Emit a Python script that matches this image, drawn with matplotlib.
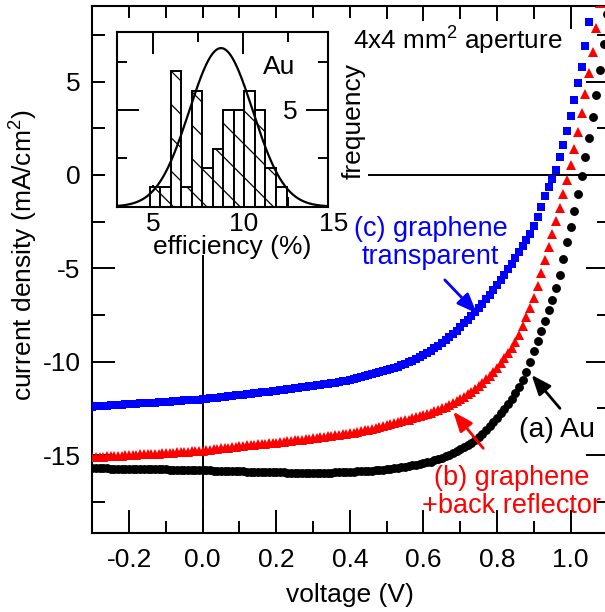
import numpy as np
import matplotlib
matplotlib.use('Agg')
import matplotlib.pyplot as plt
from matplotlib.patches import Rectangle
from matplotlib.ticker import MultipleLocator, FixedLocator, FormatStrFormatter

plt.rcParams['font.family'] = ['Liberation Sans', 'DejaVu Sans']
plt.rcParams['mathtext.fontset'] = 'custom'
plt.rcParams['mathtext.rm'] = 'Liberation Sans'
plt.rcParams['mathtext.it'] = 'Liberation Sans:italic'
plt.rcParams['mathtext.bf'] = 'Liberation Sans:bold'
plt.rcParams['axes.unicode_minus'] = False
plt.rcParams['hatch.linewidth'] = 0.9

# ---------------- data ----------------
V_au = np.round(np.arange(-0.30, 1.1001, 0.01), 2)
J_au = [-15.71, -15.71, -15.72, -15.72, -15.72, -15.73, -15.73, -15.73, -15.74, -15.74,
        -15.74, -15.75, -15.75, -15.75, -15.76, -15.76, -15.76, -15.77, -15.77, -15.77,
        -15.77, -15.78, -15.78, -15.78, -15.79, -15.79, -15.79, -15.79, -15.80, -15.80,
        -15.80, -15.81, -15.82, -15.83, -15.83, -15.84, -15.85, -15.86, -15.86, -15.87,
        -15.88, -15.88, -15.89, -15.89, -15.90, -15.90, -15.91, -15.91, -15.92, -15.92,
        -15.93, -15.93, -15.93, -15.94, -15.94, -15.94, -15.94, -15.95, -15.95, -15.95,
        -15.95, -15.95, -15.95, -15.94, -15.94, -15.94, -15.93, -15.93, -15.92, -15.91,
        -15.90, -15.89, -15.88, -15.87, -15.86, -15.85, -15.84, -15.82, -15.80, -15.78,
        -15.75, -15.73, -15.70, -15.68, -15.65, -15.62, -15.59, -15.56, -15.52, -15.49,
        -15.45, -15.40, -15.35, -15.29, -15.22, -15.15, -15.07, -14.99, -14.90, -14.80,
        -14.70, -14.58, -14.46, -14.33, -14.19, -14.03, -13.86, -13.67, -13.47, -13.25,
        -13.00, -12.76, -12.51, -12.25, -11.98, -11.70, -11.35, -10.98, -10.55, -10.00,
        -9.45, -8.90, -8.35, -7.80, -7.25, -6.70, -6.05, -5.35, -4.50, -3.60,
        -2.80, -1.95, -1.00, -0.05, 0.95, 2.00, 3.10, 4.30, 5.60, 7.00, 8.60]

V_br = np.round(np.arange(-0.30, 1.0801, 0.01), 2)
J_br = [-15.12, -15.11, -15.10, -15.08, -15.07, -15.06, -15.05, -15.04, -15.03, -15.02,
        -15.00, -14.99, -14.98, -14.97, -14.96, -14.95, -14.94, -14.93, -14.92, -14.90,
        -14.89, -14.88, -14.87, -14.86, -14.85, -14.84, -14.82, -14.81, -14.80, -14.79,
        -14.77, -14.75, -14.72, -14.70, -14.67, -14.65, -14.62, -14.60, -14.58, -14.55,
        -14.52, -14.50, -14.48, -14.47, -14.45, -14.43, -14.41, -14.39, -14.37, -14.36,
        -14.34, -14.32, -14.30, -14.27, -14.25, -14.22, -14.20, -14.17, -14.15, -14.12,
        -14.10, -14.07, -14.05, -14.02, -14.00, -13.97, -13.94, -13.92, -13.89, -13.86,
        -13.84, -13.80, -13.76, -13.72, -13.68, -13.64, -13.60, -13.55, -13.50, -13.45,
        -13.40, -13.35, -13.30, -13.25, -13.20, -13.15, -13.10, -13.04, -12.98, -12.92,
        -12.86, -12.80, -12.73, -12.66, -12.58, -12.50, -12.41, -12.32, -12.22, -12.11,
        -12.00, -11.88, -11.75, -11.61, -11.46, -11.30, -11.13, -10.95, -10.75, -10.54,
        -10.32, -10.08, -9.83, -9.56, -9.28, -8.95, -8.55, -8.10, -7.60, -7.10,
        -6.60, -5.95, -5.25, -4.55, -3.85, -3.15, -2.45, -1.75, -1.00, -0.25,
        0.55, 1.40, 2.30, 3.30, 4.35, 5.45, 6.60, 7.85, 9.20]

V_tr = np.round(np.arange(-0.30, 1.0601, 0.01), 2)
J_tr = [-12.41, -12.40, -12.38, -12.37, -12.36, -12.34, -12.33, -12.32, -12.30, -12.29,
        -12.28, -12.27, -12.25, -12.24, -12.23, -12.21, -12.20, -12.19, -12.17, -12.16,
        -12.15, -12.14, -12.12, -12.11, -12.10, -12.08, -12.07, -12.06, -12.04, -12.03,
        -12.02, -12.00, -11.97, -11.95, -11.92, -11.90, -11.87, -11.85, -11.82, -11.80,
        -11.78, -11.76, -11.73, -11.71, -11.69, -11.67, -11.64, -11.62, -11.60, -11.57,
        -11.55, -11.53, -11.50, -11.48, -11.45, -11.43, -11.40, -11.38, -11.35, -11.33,
        -11.30, -11.27, -11.24, -11.21, -11.18, -11.15, -11.12, -11.08, -11.05, -11.01,
        -10.98, -10.93, -10.88, -10.83, -10.78, -10.73, -10.68, -10.62, -10.56, -10.50,
        -10.45, -10.39, -10.33, -10.26, -10.19, -10.11, -10.03, -9.94, -9.85, -9.75,
        -9.65, -9.53, -9.41, -9.28, -9.14, -9.00, -8.85, -8.69, -8.52, -8.35,
        -8.15, -7.95, -7.75, -7.55, -7.34, -7.12, -6.90, -6.67, -6.43, -6.17,
        -5.90, -5.62, -5.34, -5.05, -4.76, -4.46, -4.15, -3.83, -3.50, -3.15,
        -2.75, -2.25, -1.70, -1.15, -0.65, -0.20, 0.25, 0.95, 1.60, 2.35,
        3.15, 4.00, 4.90, 5.80, 6.90, 8.20, 9.50]

# inset histogram (efficiency distribution, Au)
bin_edges = [4.80, 5.38, 5.97, 6.55, 7.14, 7.72, 8.31, 8.89, 9.48, 10.06, 10.65, 11.23, 11.81, 12.40]
counts = [1, 1, 7, 1, 6, 2, 3, 5, 5, 6, 5, 2, 1]
# gaussian fit parameters
fit_amp, fit_mu, fit_sigma = 8.2, 8.76, 1.76

# ---------------- figure ----------------
fig = plt.figure(figsize=(6.05, 6.12), dpi=100)
ax = fig.add_axes([0.1526, 0.1296, 0.8532, 0.8606])
ax.set_xlim(-0.30, 1.103)
ax.set_ylim(-19.16, 9.05)

ax.axhline(0, color='black', lw=1.4, zorder=1)
ax.axvline(0, color='black', lw=1.4, zorder=1)

ax.plot(V_tr, J_tr, 's', color='blue', ms=5.8, mew=0, zorder=3)
ax.plot(V_br, J_br, '^', color='red', ms=6.8, mew=0, zorder=3)
ax.plot(V_au, J_au, 'o', color='black', ms=6.4, mew=0, zorder=3)

ax.xaxis.set_major_locator(MultipleLocator(0.2))
ax.xaxis.set_minor_locator(MultipleLocator(0.1))
ax.xaxis.set_major_formatter(FormatStrFormatter('%.1f'))
ax.yaxis.set_major_locator(MultipleLocator(5))
ax.yaxis.set_minor_locator(MultipleLocator(2.5))
ax.tick_params(which='both', direction='in', top=True, right=True, width=1.4, labelsize=19)
ax.tick_params(which='major', length=16.5)
ax.tick_params(which='minor', length=9)
ax.tick_params(axis='x', pad=11)
ax.tick_params(axis='y', pad=8.5)
for s in ax.spines.values():
    s.set_linewidth(1.5)

ax.set_xlabel('voltage (V)', fontsize=19)
ax.xaxis.set_label_coords(0.5, -0.0955)
ax.set_ylabel('current density (mA/cm$^2$)', fontsize=19)
ax.yaxis.set_label_coords(-0.101, 0.527)

# white area behind the inset
ax.add_patch(Rectangle((105 / 605, 1 - 255 / 612), 263 / 605, 237 / 612,
                       transform=fig.transFigure, fc='white', ec='none', zorder=5))

# annotations
ax.text(0.620, -3.67, '(c) graphene\ntransparent', color='blue', ha='center', va='center',
        fontsize=19.5, linespacing=1.1, zorder=6)
ax.text(0.964, -13.66, '(a) Au', color='black', ha='center', va='center', fontsize=20.5, zorder=6)
ax.text(0.8405, -16.98, '(b) graphene\n+back reflector', color='red', ha='center', va='center',
        fontsize=19.5, linespacing=1.1, zorder=6)
ax.text(0.694, 7.18, '4x4 mm$^2$ aperture', color='black', ha='center', va='center', fontsize=18.8,
        zorder=6, bbox=dict(boxstyle='square,pad=0.15', fc='white', ec='none'))

arrow_kw = dict(arrowstyle='-|>,head_length=0.75,head_width=0.3', lw=2.0,
                mutation_scale=16, shrinkA=0, shrinkB=0)
ax.annotate('', xy=(0.745, -7.41), xytext=(0.658, -5.62),
            arrowprops=dict(color='blue', **arrow_kw), zorder=6)
ax.annotate('', xy=(0.681, -12.68), xytext=(0.7625, -14.64),
            arrowprops=dict(color='red', **arrow_kw), zorder=6)
ax.annotate('', xy=(0.894, -10.71), xytext=(0.971, -12.5),
            arrowprops=dict(color='black', **arrow_kw), zorder=6)

# ---------------- inset ----------------
ax_in = fig.add_axes([0.1939, 0.6623, 0.3488, 0.2850])
ax_in.set_zorder(2)
ax_in.set_xlim(3, 14.72)
ax_in.set_ylim(0, 9.02)
ax_in.bar(bin_edges[:-1], counts, width=np.diff(bin_edges), align='edge',
          facecolor='white', edgecolor='black', linewidth=1.4, hatch='\\', zorder=2)
xs = np.linspace(3, 14.72, 400)
ax_in.plot(xs, fit_amp * np.exp(-(xs - fit_mu) ** 2 / (2 * fit_sigma ** 2)),
           color='black', lw=1.6, zorder=3)

ax_in.xaxis.set_major_locator(FixedLocator([5, 10]))
ax_in.xaxis.set_minor_locator(FixedLocator([7.5, 12.5]))
ax_in.yaxis.set_major_locator(FixedLocator([5]))
ax_in.yaxis.set_minor_locator(FixedLocator([2.5, 7.5]))
ax_in.tick_params(which='both', direction='in', top=True, bottom=True, left=True, right=True,
                  width=1.4, labelsize=19)
ax_in.tick_params(which='major', length=15.5)
ax_in.tick_params(which='minor', length=7.5)
ax_in.tick_params(axis='x', pad=4.0)
ax_in.tick_params(axis='y', labelleft=False, labelright=True, pad=-32.4)
for s in ax_in.spines.values():
    s.set_linewidth(1.5)
ax_in.text(15, -0.032, '15', transform=ax_in.get_xaxis_transform(), ha='center', va='top',
           fontsize=19, clip_on=False)
ax_in.text(11.98, 7.24, 'Au', ha='center', va='center', fontsize=19)

ax_in.set_xlabel('efficiency (%)', fontsize=19)
ax_in.xaxis.set_label_coords(0.546, -0.165)
ax_in.set_ylabel('frequency', fontsize=19)
ax_in.yaxis.set_label_position('right')
ax_in.yaxis.set_label_coords(1.0635, 0.491)

fig.savefig('out.png', dpi=100)
